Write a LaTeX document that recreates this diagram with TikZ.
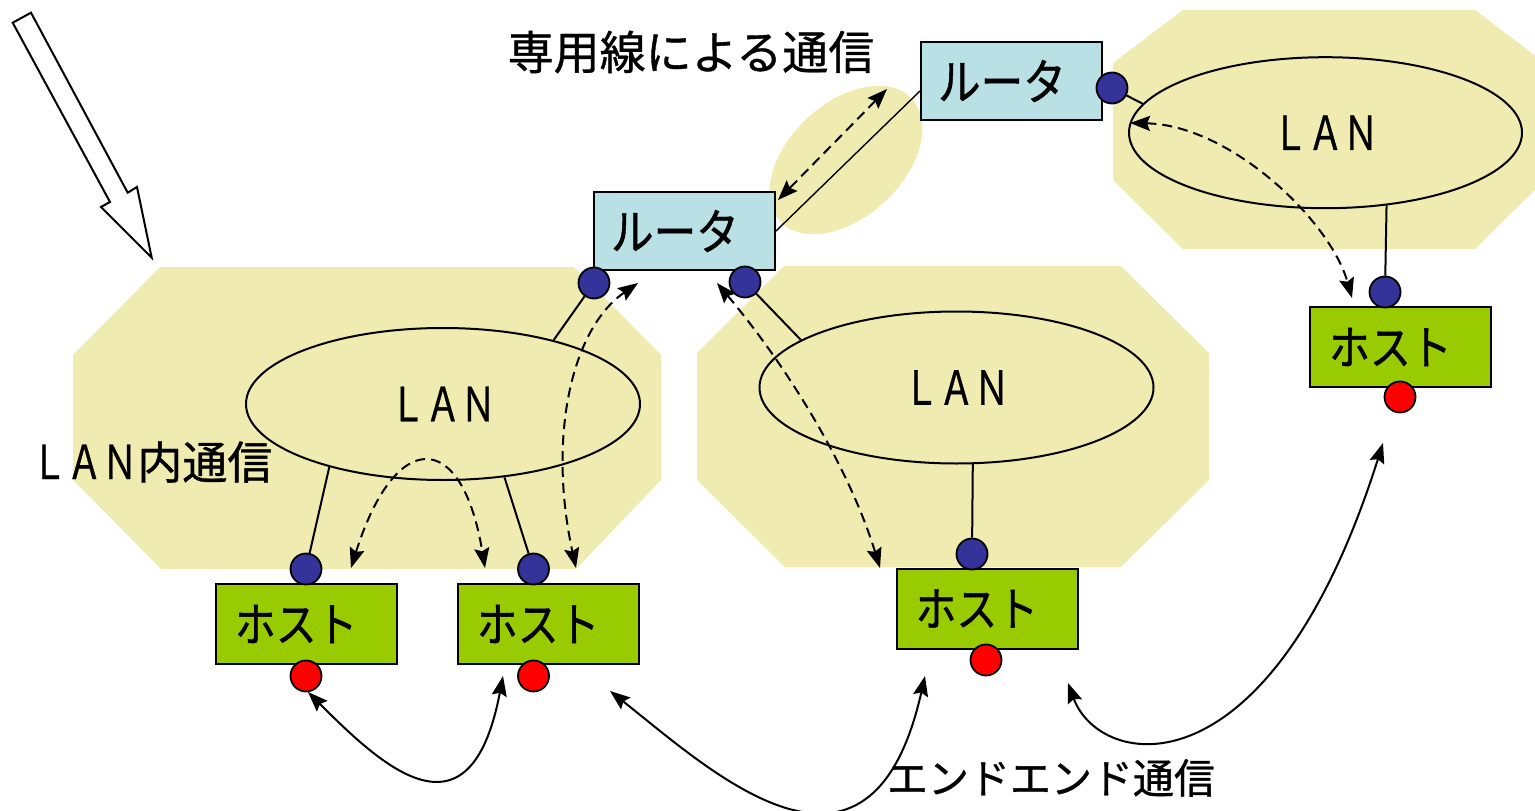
\documentclass[tikz,border=0pt]{standalone}
\usepackage{fontspec}
\newfontfamily\jp[FakeBold=0.8]{Noto Sans CJK JP}
\newfontfamily\jpn[FakeStretch=0.75,FakeBold=0.6]{Noto Sans CJK JP}
\newfontfamily\jpk[FakeStretch=0.87,FakeBold=0.9]{Noto Sans CJK JP}
\usetikzlibrary{shapes.geometric,arrows.meta}
\definecolor{lanfill}{RGB}{240,235,176}
\definecolor{routerfill}{RGB}{185,224,228}
\definecolor{hostfill}{RGB}{153,204,0}
\definecolor{portblue}{RGB}{51,51,153}
\definecolor{portred}{RGB}{255,0,0}
\tikzset{
  tipx/.tip={Stealth[length=20pt,width=15pt,inset=3pt]},
  lanzone/.style={fill=lanfill},
  lanring/.style={draw, ellipse, line width=2pt, minimum width=394pt, minimum height=152pt, inner sep=0pt, font=\jpn\fontsize{47}{50}\selectfont},
  routerbox/.style={draw, fill=routerfill, line width=2pt, minimum width=181pt, minimum height=78pt, inner xsep=17pt, text width=147pt, align=left, font=\jpk\fontsize{49}{52}\selectfont},
  hostbox/.style={draw, fill=hostfill, line width=2pt, minimum width=181pt, minimum height=80pt, inner xsep=19pt, text width=143pt, align=left, font=\jpk\fontsize{47}{50}\selectfont},
  portdot/.style={circle, draw, fill=portblue, line width=1.8pt, minimum size=31pt, inner sep=0pt},
  enddot/.style={circle, draw, fill=portred, line width=1.8pt, minimum size=31pt, inner sep=0pt},
  wire/.style={line width=2pt},
  dflow/.style={line width=2pt, dash pattern=on 10pt off 6pt, tipx-tipx},
  e2e/.style={line width=2pt, tipx-tipx},
  titletext/.style={inner sep=0pt, font=\jp\fontsize{46}{50}\selectfont},
}
\begin{document}
\begin{tikzpicture}[x=1pt,y=-1pt]
\useasboundingbox (0,0) rectangle (1535,811);
% hollow arrow
\draw[line width=2pt, fill=white, line join=miter] (12.7,22.7) -- (31,12.7) -- (127.7,192.7) -- (137,187) -- (151.7,257.7) -- (101,207) -- (110,202) -- cycle;
% LAN zones
\fill[lanzone] (160,267) -- (574,267) -- (661,355) -- (661,480) -- (576,569) -- (161,569) -- (73,480) -- (73,355) -- cycle;
\fill[lanzone] (784,266) -- (1121,266) -- (1209,353) -- (1209,480) -- (1121,567) -- (785,567) -- (697,480) -- (697,353) -- cycle;
\fill[lanzone] (1183,10) -- (1475,10) -- (1545,63) -- (1545,180) -- (1475,249) -- (1183,249) -- (1113,180) -- (1113,63) -- cycle;
\node[ellipse, fill=lanfill, minimum width=180pt, minimum height=114pt, rotate=43, inner sep=0pt] (lease) at (846,160) {};
% LAN rings
\node[lanring] (lan1) at (443,404) {ＬＡＮ};
\node[lanring] (lan2) at (956.5,387.5) {ＬＡＮ};
\node[lanring, minimum width=393pt, minimum height=151pt] (lan3) at (1325.5,132.7) {ＬＡＮ};
% routers and hosts
\node[routerbox] (r1) at (684.5,231) {ルータ};
\node[routerbox] (r2) at (1011.5,81) {ルータ};
\node[hostbox] (h1) at (306.3,624) {ホスト};
\node[hostbox] (h2) at (548.3,624) {ホスト};
\node[hostbox] (h3) at (987,608.5) {ホスト};
\node[hostbox] (h4) at (1400.5,347) {ホスト};
% ports
\node[portdot] (r1l) at (594,283) {};
\node[portdot] (r1r) at (745,282) {};
\node[portdot] (r2d) at (1112,88) {};
\node[portdot] (h1d) at (306,569) {};
\node[portdot] (h2d) at (533.5,569) {};
\node[portdot] (h3d) at (972,554) {};
\node[portdot] (h4d) at (1385,292) {};
\node[enddot] (h1r) at (306,676) {};
\node[enddot] (h2r) at (533.5,676) {};
\node[enddot] (h3r) at (986,660) {};
\node[enddot] (h4r) at (1400,397) {};
% wires
\draw[wire] (r1l) -- (lan1.30);
\draw[wire] (r1r) -- (lan2.163.6);
\draw[wire] (r2d) -- (lan3.171.6);
\draw[wire] (lan3.-50.4) -- (h4d);
\draw[wire] (lan1.209.1) -- (h1d);
\draw[wire] (lan1.-50.9) -- (h2d);
\draw[wire] (lan2.-78.4) -- (h3d);
\draw[line width=1.4pt] (r1.east) -- ([yshift=-10pt]r2.west);
% labels
\node[titletext] (tlease) at (691,52) {専用線による通信};
\node[titletext, font=\jp\fontsize{45}{50}\selectfont] (tlan) at (152,462) {{\jpn\fontsize{47}{50}\selectfont ＬＡＮ}内通信};
\node[titletext, font=\jp\fontsize{41}{46}\selectfont] (tend) at (1051,778) {エンドエンド通信};
% dashed flows
\coordinate (fa1) at (887,89);
\coordinate (fa2) at (778,200);
\draw[dflow] (fa1) -- (fa2);
\coordinate (fb1) at (351,568);
\coordinate (fb2) at (485,568);
\draw[dflow] (fb1) .. controls (395,428) and (462,428) .. (fb2);
\coordinate (fc1) at (638,283);
\coordinate (fc2) at (576,568);
\draw[dflow] (fc1) .. controls (570,330) and (548,440) .. (fc2);
\coordinate (fd1) at (717,283);
\coordinate (fd2) at (880,568);
\draw[dflow] (fd1) .. controls (790,370) and (850,470) .. (fd2);
\coordinate (fe1) at (1130,123);
\coordinate (fe2) at (1352,298);
\draw[dflow] (fe1) .. controls (1230,125) and (1330,220) .. (fe2);
% end-to-end arrows
\coordinate (ea1) at (308,692);
\coordinate (ea2) at (503,676);
\draw[e2e] (ea1) .. controls (380,764) and (470,850) .. (ea2);
\coordinate (eb1) at (610,691);
\coordinate (eb2) at (925,676);
\draw[e2e] (eb1) .. controls (710,770) and (870,920) .. (eb2);
\coordinate (ec1) at (1068,683);
\coordinate (ec2) at (1383,443);
\draw[e2e] (ec1) .. controls (1100,770) and (1270,800) .. (ec2);
\end{tikzpicture}
\end{document}
